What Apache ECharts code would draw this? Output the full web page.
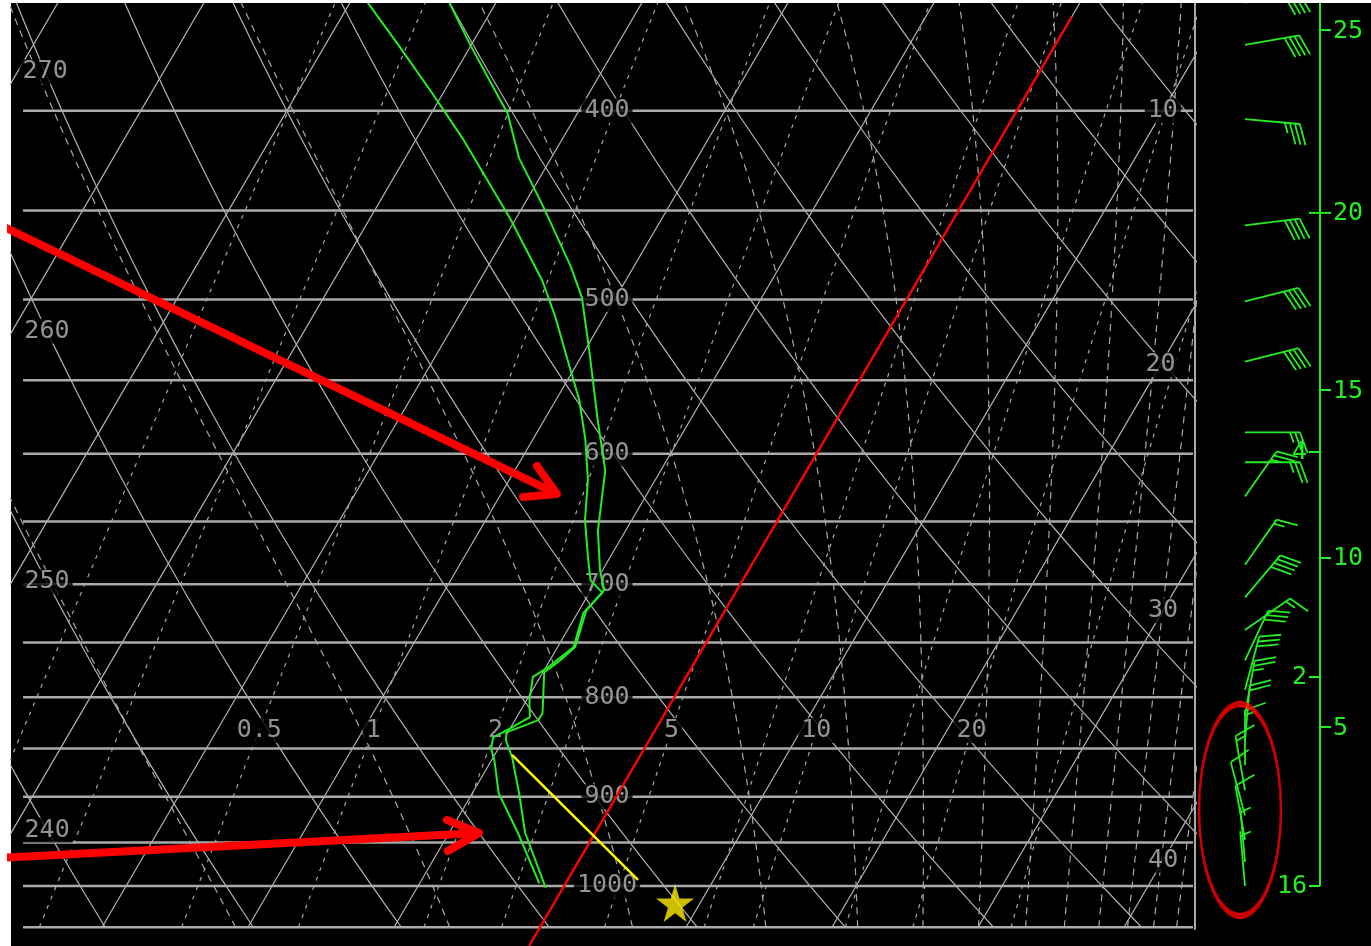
<!DOCTYPE html>
<html>
<head>
<meta charset="utf-8">
<script src="https://cdn.jsdelivr.net/npm/echarts@6.0.0/dist/echarts.min.js"></script>
<style>
html, body { margin: 0; padding: 0; background: #000; }
#chart { width: 1371px; height: 946px; }
</style>
</head>
<body>
<div id="chart"></div>
<script>
// ---- diagram reference values ----
var isobars = [400, 450, 500, 550, 600, 650, 700, 750, 800, 850, 900, 950, 1000, 1050];
var isobarLabels = [400, 500, 600, 700, 800, 900, 1000];
var isotherms = [-80, -70, -60, -50, -40, -30, -20, -10, 0, 10, 20, 30, 40];
var isothermLabels = [10, 20, 30, 40];
var isothermLabelP = [400, 540, 722, 970];
var thetas = [230, 240, 250, 260, 270, 280, 290, 300, 310, 320, 330, 340, 350, 360, 370, 380];
var thetaLabels = [270, 260, 250, 240];
var thetaLabelP = [382, 519, 698, 936];
var mixRatios = [0.1, 0.2, 0.5, 1, 2, 3, 5, 8, 10, 15, 20, 30];
var mixLabels = ['0.5', '1', '2', '5', '10', '20'];
var moistStartT = [-40, -24, -9, 4, 13.5, 20, 24.6, 28.5, 31.8, 34.5, 36.9, 38.9, 40.7, 42.3];

// ---- sounding (hPa, degC) ----
var dewP = [351, 371, 392, 413, 436, 455, 489, 510, 537, 563, 590, 619, 649, 680, 697, 707, 724, 754, 773, 781, 803, 819, 830, 839, 850, 862, 896, 939, 997];
var dewT = [-49.0, -44.8, -40.7, -36.9, -33.2, -30.3, -25.7, -23.4, -20.8, -18.4, -16.4, -14.6, -13.2, -11.4, -10.4, -9.1, -9.6, -8.9, -9.9, -10.5, -9.8, -9.1, -10.0, -10.8, -10.5, -9.8, -8.2, -5.3, -1.8];
var tempP = [352, 371, 395, 401, 423, 448, 481, 499, 531, 577, 612, 657, 688, 705, 722, 754, 766, 777, 815, 822, 834, 842, 859, 896, 939, 1002];
var tempT = [-43.2, -39.9, -35.8, -34.8, -32.2, -28.6, -24.3, -22.3, -19.7, -16.3, -13.8, -11.9, -10.2, -9.1, -9.5, -8.8, -9.3, -9.9, -8.4, -8.4, -10.1, -9.8, -8.7, -6.8, -4.8, -1.2];

// ---- annotations (hPa, degC) ----
var redLineP = [1073, 358];
var redLineT = [0, 0];
var yellowP = [856.5, 992.9];
var yellowT = [-8.81, 4.82];
var starP = [1020.3];
var starT = [8.28];
var arrow1P = [457.8, 629.1];
var arrow1T = [-65.08, -16.18];
var arrow1HeadP = [608.7, 629.1, 631.4];
var arrow1HeadT = [-18.66, -16.18, -18.37];
var arrow2P = [967.4, 939.3];
var arrow2T = [-39.76, -7.95];
var arrow2HeadP = [925.0, 939.3, 959.5];
var arrow2HeadT = [-10.66, -7.95, -9.36];

// ---- winds ----
var barbP = [352, 370, 404, 458, 501, 538, 585, 606, 631, 684, 711, 739, 766, 793, 817, 842, 867, 893, 920, 947, 972, 1000];
var barbDir = [80, 80, 95, 83, 76, 76, 90, 90, 35, 35, 40, 55, 25, 15, 10, 5, 0, 350, 345, 350, 355, 355];
var barbSpd = [40, 40, 35, 40, 40, 40, 25, 25, 25, 15, 40, 15, 30, 30, 25, 20, 15, 15, 10, 10, 5, 5];
var windTickP = [363.6, 451.3, 556.4, 598.7, 678.6, 781.1, 828.7, 1000];
var windTickLabel = ['25', '20', '15', '4', '10', '2', '5', '16'];
var windTickSide = [1, 0, 1, -1, 1, -1, 1, -1];

var SKEW = 33.84;
var GRAY = '#b4b4b4';
var GREEN = '#22ee22';
var FONT = 'DejaVu Sans Mono';

function sx(t, p) { return t + SKEW * Math.log(1050 / p); }
function pts(ps, ts) { return ps.map(function (p, i) { return [sx(ts[i], p), p]; }); }
function levels(n) {
  var out = [];
  for (var i = 0; i <= n; i++) out.push(1050 * Math.pow(350 / 1050, i / n));
  return out;
}
function esat(t) { return 6.112 * Math.exp(17.67 * t / (t + 243.5)); }
function moistRate(t, p) {
  var tk = t + 273.15, es = esat(t), rs = 0.622 * es / (p - es);
  return (287.04 * tk + 2.5e6 * rs) / (1005.7 + 2.5e6 * 2.5e6 * rs * 0.622 / (287.04 * tk * tk));
}
function moistCurve(t0) {
  var out = [];
  var t = t0, lp = Math.log(1000), d = Math.log(1050 / 1000) / 4;
  var down = [];
  for (var i = 0; i < 4; i++) {
    var k1 = moistRate(t, Math.exp(lp));
    var k2 = moistRate(t + k1 * d / 2, Math.exp(lp + d / 2));
    t += k2 * d; lp += d; down.push([sx(t, Math.exp(lp)), Math.exp(lp)]);
  }
  down.reverse().forEach(function (q) { out.push(q); });
  out.push([sx(t0, 1000), 1000]);
  t = t0; lp = Math.log(1000);
  var n = 50, du = (Math.log(350) - lp) / n;
  for (var j = 0; j < n; j++) {
    var a1 = moistRate(t, Math.exp(lp));
    var a2 = moistRate(t + a1 * du / 2, Math.exp(lp + du / 2));
    t += a2 * du; lp += du; out.push([sx(t, Math.exp(lp)), Math.exp(lp)]);
  }
  return out;
}
function tdFromW(w, p) {
  var e = w * p / (622 + w), l = Math.log(e / 6.112);
  return 243.5 * l / (17.67 - l);
}

function lineS(data, style, z, clip) {
  return {
    type: 'line', xAxisIndex: 0, yAxisIndex: 0, data: data, symbol: 'none',
    silent: true, z: z, clip: clip !== false, lineStyle: style
  };
}

var series = [];
var lv = levels(40);

isotherms.forEach(function (t) {
  series.push(lineS([[sx(t, 1050), 1050], [sx(t, 350), 350]], { color: GRAY, width: 1.2 }, 1));
});
thetas.forEach(function (th) {
  series.push(lineS(lv.map(function (p) {
    return [sx(th * Math.pow(p / 1000, 0.286) - 273.15, p), p];
  }), { color: GRAY, width: 1.2 }, 1));
});
mixRatios.forEach(function (w) {
  series.push(lineS(lv.map(function (p) { return [sx(tdFromW(w, p), p), p]; }),
    { color: '#a8a8a8', width: 1.2, type: [4, 6] }, 1));
});
moistStartT.forEach(function (t0) {
  series.push(lineS(moistCurve(t0), { color: '#a8a8a8', width: 1.2, type: [7, 6] }, 1));
});
isobars.forEach(function (p) {
  series.push(lineS([[-35.41, p], [44.73, p]], { color: '#aaaaaa', width: 2.5 }, 1));
});
// right frame of the diagram
series.push(lineS([[44.863, 351], [44.863, 1053]], { color: '#aaaaaa', width: 2 }, 1, false));

function labelSeries(data, z) {
  return {
    type: 'scatter', xAxisIndex: 0, yAxisIndex: 0, symbolSize: 0, silent: true, z: z,
    data: data,
    label: {
      show: true, position: 'inside', formatter: '{b}', color: '#b8b8b8',
      fontFamily: FONT, fontSize: 25, backgroundColor: '#000', padding: [0, 3]
    }
  };
}
series.push(labelSeries(isobarLabels.map(function (p) {
  return { name: String(p), value: [4.59, p] };
}), 3));
series.push(labelSeries(isothermLabels.map(function (t, i) {
  return { name: String(t), value: [sx(t, isothermLabelP[i]), isothermLabelP[i]] };
}), 3));
series.push(labelSeries(thetaLabels.map(function (th, i) {
  var p = thetaLabelP[i];
  return { name: String(th), value: [sx(th * Math.pow(p / 1000, 0.286) - 273.15, p), p] };
}), 3));
series.push(labelSeries(mixLabels.map(function (w) {
  return { name: w, value: [sx(tdFromW(parseFloat(w), 832), 832), 832] };
}), 3));

// sounding
series.push(lineS(pts(dewP, dewT), { color: GREEN, width: 2 }, 5));
series.push(lineS(pts(tempP, tempT), { color: GREEN, width: 2 }, 5));

// annotations
series.push(lineS(pts(redLineP, redLineT), { color: '#ff0000', width: 2.4 }, 6, false));
series.push(lineS(pts(yellowP, yellowT), { color: '#ffff00', width: 2.5 }, 6));
series.push(lineS(pts(arrow1P, arrow1T), { color: '#ff0000', width: 8 }, 7, false));
series.push(lineS(pts(arrow1HeadP, arrow1HeadT), { color: '#ff0000', width: 8, join: 'round', cap: 'round' }, 7, false));
series.push(lineS(pts(arrow2P, arrow2T), { color: '#ff0000', width: 8 }, 7, false));
series.push(lineS(pts(arrow2HeadP, arrow2HeadT), { color: '#ff0000', width: 8, join: 'round', cap: 'round' }, 7, false));
series.push({
  type: 'scatter', xAxisIndex: 0, yAxisIndex: 0, z: 8, silent: true,
  symbol: 'path://M50,0 L61,35 L98,35 L68,57 L79,91 L50,70 L21,91 L32,57 L2,35 L39,35 Z',
  symbolSize: 38, itemStyle: { color: '#ffee00' },
  data: pts(starP, starT)
});

// ---- wind panel ----
var BARB_X = 50, AXIS_X = 125, SHAFT = 55;
series.push({
  type: 'line', xAxisIndex: 1, yAxisIndex: 1, symbol: 'none', silent: true, z: 5,
  data: [[AXIS_X, 351], [AXIS_X, 1000]], lineStyle: { color: GREEN, width: 2 }
});
series.push({
  type: 'custom', xAxisIndex: 1, yAxisIndex: 1, z: 5, silent: true,
  data: windTickP.map(function (p) { return [AXIS_X, p]; }),
  renderItem: function (params, api) {
    var i = params.dataIndex, side = windTickSide[i];
    var c = api.coord([api.value(0), api.value(1)]);
    var x0 = side <= 0 ? c[0] - 11 : c[0];
    var x1 = side >= 0 ? c[0] + 11 : c[0];
    return {
      type: 'group', children: [
        { type: 'line', shape: { x1: x0, y1: c[1], x2: x1, y2: c[1] }, style: { stroke: GREEN, lineWidth: 2 } },
        {
          type: 'text', x: side < 0 ? c[0] - 13 : c[0] + 13, y: c[1] + 1,
          style: {
            text: windTickLabel[i], fill: GREEN, font: '25px "' + FONT + '"',
            align: side < 0 ? 'right' : 'left', verticalAlign: 'middle'
          }
        }
      ]
    };
  }
});
series.push({
  type: 'custom', xAxisIndex: 1, yAxisIndex: 1, z: 6, silent: true,
  data: barbP.map(function (p, i) { return [BARB_X, p, barbDir[i], barbSpd[i]]; }),
  renderItem: function (params, api) {
    var base = api.coord([api.value(0), api.value(1)]);
    var r = api.value(2) * Math.PI / 180, spd = api.value(3);
    var ux = Math.sin(r), uy = -Math.cos(r);
    var tip = [base[0] + ux * SHAFT, base[1] + uy * SHAFT];
    var a = 70 * Math.PI / 180;
    var fx = ux * Math.cos(a) - uy * Math.sin(a), fy = ux * Math.sin(a) + uy * Math.cos(a);
    var st = { stroke: GREEN, lineWidth: 1.8 };
    var kids = [{ type: 'line', shape: { x1: base[0], y1: base[1], x2: tip[0], y2: tip[1] }, style: st }];
    var pos = 0, left = Math.round(spd / 5) * 5;
    while (left >= 50) {
      var b0 = [tip[0] - ux * pos, tip[1] - uy * pos];
      var b1 = [tip[0] - ux * (pos + 8), tip[1] - uy * (pos + 8)];
      kids.push({ type: 'polygon', shape: { points: [b0, [b0[0] + fx * 22, b0[1] + fy * 22], b1] }, style: { fill: GREEN } });
      pos += 11; left -= 50;
    }
    while (left >= 10) {
      var q = [tip[0] - ux * pos, tip[1] - uy * pos];
      kids.push({ type: 'line', shape: { x1: q[0], y1: q[1], x2: q[0] + fx * 22, y2: q[1] + fy * 22 }, style: st });
      pos += 5; left -= 10;
    }
    if (left >= 5) {
      if (pos === 0) pos = 5;
      var h = [tip[0] - ux * pos, tip[1] - uy * pos];
      kids.push({ type: 'line', shape: { x1: h[0], y1: h[1], x2: h[0] + fx * 11, y2: h[1] + fy * 11 }, style: st });
    }
    return { type: 'group', children: kids };
  }
});
series.push({
  type: 'scatter', xAxisIndex: 1, yAxisIndex: 1, z: 8, silent: true,
  symbol: 'path://M0,50 A50,50 0 1,1 100,50 A50,50 0 1,1 0,50 Z', symbolKeepAspect: false,
  symbolSize: [82, 212],
  itemStyle: { color: 'rgba(0,0,0,0)', borderColor: '#ff0000', borderWidth: 4 },
  data: [[45, 914.1]]
});

var chart = echarts.init(document.getElementById('chart'), null, { renderer: 'canvas' });
chart.setOption({
  animation: false,
  backgroundColor: '#000',
  grid: [
    { left: 11, top: 0, width: 1184, height: 946 },
    { left: 1195, top: 0, width: 176, height: 946 }
  ],
  xAxis: [
    { type: 'value', gridIndex: 0, min: -36.233, max: 44.863, show: false },
    { type: 'value', gridIndex: 1, min: 0, max: 176, show: false }
  ],
  yAxis: [
    { type: 'log', logBase: 10, gridIndex: 0, min: 350.9, max: 1073.5, inverse: true, show: false },
    { type: 'log', logBase: 10, gridIndex: 1, min: 350.9, max: 1073.5, inverse: true, show: false }
  ],
  graphic: [
    { type: 'rect', left: 0, top: 0, z: 0, shape: { width: 11, height: 946 }, style: { fill: '#fff' } },
    { type: 'rect', left: 0, top: 0, z: 100, shape: { width: 1371, height: 3 }, style: { fill: '#fff' } }
  ],
  series: series
});
</script>
</body>
</html>
